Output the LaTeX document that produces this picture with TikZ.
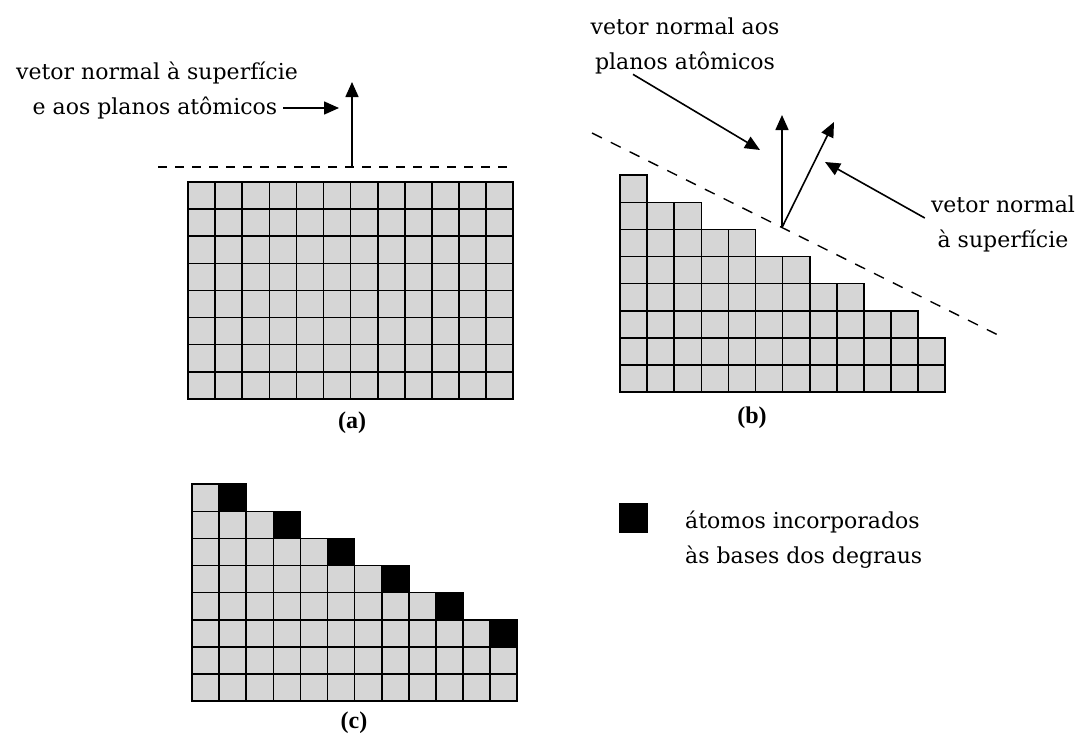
\documentclass[tikz,border=0pt]{standalone}
\usepackage{fontspec}
\setmainfont{DejaVu Serif}
\newfontfamily\capfont{Liberation Serif}
\usetikzlibrary{arrows.meta}

\definecolor{cellgray}{RGB}{214,214,214}

\tikzset{
  cellbox/.style={draw=black, fill=cellgray, line width=1.6pt},
  atom/.style={draw=black, fill=black, line width=1.6pt},
  vec/.style={line width=1.6pt, -{Triangle[length=15pt,width=13pt]}},
  surf/.style={line width=1.4pt, dash pattern=on 9pt off 8pt},
  txt/.style={font=\fontsize{22}{35}\selectfont, inner sep=0pt, align=center},
  panelcap/.style={font=\capfont\bfseries\fontsize{24}{24}\selectfont, inner sep=0pt}
}

\begin{document}
\begin{tikzpicture}[x=1pt,y=-1pt]
\useasboundingbox (0,0) rectangle (1085,745);

% =========================
% (a) flat surface
% =========================
\begin{scope}[shift={(188,398.8)}, x=27.1pt, y=27.1pt]
  \foreach \c in {0,...,11}
    \foreach \r in {1,...,8}
      \draw[cellbox] (\c,\r-1) rectangle (\c+1,\r);
\end{scope}

% surface and normal
\coordinate (surfA1) at (158,167);
\coordinate (surfA2) at (513,167);
\coordinate (baseA) at (352,167);
\coordinate (tipA) at (352,82);
\draw[surf] (surfA1) -- (surfA2);
\draw[vec] (baseA) -- (tipA);

% label
\node[txt] (nrmA1) at (157,73) {vetor normal à superfície};
\node[txt] (nrmA2) at (155,108) {e aos planos atômicos};
\coordinate (ptrA) at (339,109);
\draw[vec] ([xshift=6pt]nrmA2.east) -- (nrmA2.east -| ptrA);

\node[panelcap] (capA) at (352,423) {(a)};

% =========================
% (b) vicinal surface
% =========================
\begin{scope}[shift={(620,392)}, x=27.1pt, y=27.1pt]
  \foreach \c/\h in {0/8,1/7,2/7,3/6,4/6,5/5,6/5,7/4,8/4,9/3,10/3,11/2}
    \foreach \r in {1,...,\h}
      \draw[cellbox] (\c,\r-1) rectangle (\c+1,\r);
\end{scope}

% surface and normals
\coordinate (surfB1) at (592,133);
\coordinate (surfB2) at (1002,337);
\coordinate (baseB) at (782,227.5);
\coordinate (tipB1) at (782,115);
\coordinate (tipB2) at (834,122);
\draw[surf, dash pattern=on 11pt off 10pt] (surfB1) -- (surfB2);
\draw[vec] (baseB) -- (tipB1);
\draw[vec] (baseB) -- (tipB2);

% labels
\node[txt] (nrmB) at (685,46) {vetor normal aos\\planos atômicos};
\node[txt] (nrmS) at (1003,224) {vetor normal\\à superfície};
\coordinate (ptrB) at (760,150);
\coordinate (ptrS) at (825,162);
\draw[vec] ([xshift=-52pt]nrmB.south) -- (ptrB);
\draw[vec] ([shift={(-6,-6)}]nrmS.west) -- (ptrS);

\node[panelcap] (capB) at (752,418) {(b)};

% =========================
% (c) atoms at step bases
% =========================
\begin{scope}[shift={(192,701)}, x=27.1pt, y=27.1pt]
  \foreach \c/\h in {0/8,1/8,2/7,3/7,4/6,5/6,6/5,7/5,8/4,9/4,10/3,11/3}
    \foreach \r in {1,...,\h}
      \draw[cellbox] (\c,\r-1) rectangle (\c+1,\r);
  % black atoms
  \foreach \c/\h in {1/8,3/7,5/6,7/5,9/4,11/3}
    \draw[atom] (\c,\h-1) rectangle (\c+1,\h);
\end{scope}

\node[panelcap] (capC) at (354,723) {(c)};

% legend
\node[fill=black, minimum width=29pt, minimum height=30pt, inner sep=0pt] (key) at (633.5,518) {};
\node[txt, align=left, anchor=west] (keyTxt) at (685,539.5) {átomos incorporados\\às bases dos degraus};

\end{tikzpicture}
\end{document}
